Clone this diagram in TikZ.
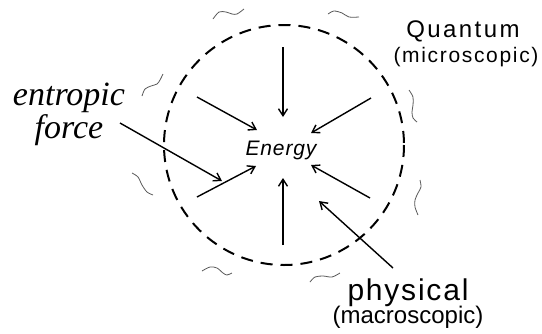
\documentclass[tikz,border=0pt]{standalone}
\usepackage{fontspec}
\setmainfont{Liberation Serif}
\setsansfont{Liberation Sans}
\newfontfamily\qsans[LetterSpace=10]{Liberation Sans}
\newfontfamily\midsans[LetterSpace=8]{Liberation Sans}
\newfontfamily\psans[LetterSpace=6]{Liberation Sans}
\newfontfamily\esans[LetterSpace=4]{Liberation Sans}
\usetikzlibrary{arrows.meta}
\tikzset{
  inarrow/.style={line width=1.4pt,-{Straight Barb[length=7pt,width=9pt,line width=1.4pt]}},
  boundary/.style={line width=2pt,dash pattern=on 12pt off 8pt},
  squig/.style={gray!70!black,line width=0.8pt},
  lbl/.style={inner sep=0pt,anchor=base}
}
\begin{document}
\begin{tikzpicture}[x=1pt,y=-1pt]
\useasboundingbox (0,0) rectangle (542,333);
% boundary
\node[draw=none,inner sep=0pt] (ctr) at (284,145) {};
\draw[boundary] (ctr) circle[radius=120];
% labels
\node[lbl] (energy) at (281,155) {\esans\itshape\fontsize{21}{21}\selectfont Energy};
\node[lbl] (entropic) at (69,105) {\itshape\fontsize{34}{34}\selectfont entropic};
\node[lbl] (force) at (69,138) {\itshape\fontsize{34}{34}\selectfont force};
\node[lbl] (quantum) at (463,37) {\qsans\fontsize{24}{24}\selectfont Quantum};
\node[lbl] (micro) at (466,62) {\midsans\fontsize{21}{21}\selectfont (microscopic)};
\node[lbl] (physical) at (408,300) {\psans\fontsize{30}{30}\selectfont physical};
\node[lbl] (macro) at (408,323) {\sffamily\fontsize{24}{24}\selectfont (macroscopic)};
% arrow end points
\coordinate (a1s) at (283,47);  \coordinate (a1e) at (283,117);
\coordinate (a2s) at (371,98);  \coordinate (a2e) at (311,133);
\coordinate (a3s) at (197,97);  \coordinate (a3e) at (257,130);
\coordinate (a4s) at (197,197); \coordinate (a4e) at (256,166);
\coordinate (a5s) at (120,123); \coordinate (a5e) at (222,181);
\coordinate (a6s) at (283,245); \coordinate (a6e) at (283,178);
\coordinate (a7s) at (370,198); \coordinate (a7e) at (311,165);
\coordinate (a8s) at (393,268); \coordinate (a8e) at (319,201);
\draw[inarrow] (a1s) -- (a1e);
\draw[inarrow] (a2s) -- (a2e);
\draw[inarrow] (a3s) -- (a3e);
\draw[inarrow] (a4s) -- (a4e);
\draw[inarrow] (a5s) -- (a5e);
\draw[inarrow] (a6s) -- (a6e);
\draw[inarrow] (a7s) -- (a7e);
\draw[inarrow] (a8s) -- (a8e);
% squiggles
\draw[squig] plot[smooth] coordinates {(213,19) (219,12) (226,12) (232,14) (237,14) (244,9)};
\draw[squig] plot[smooth] coordinates {(328,14) (334,11) (342,13) (349,17) (359,17)};
\draw[squig] plot[smooth] coordinates {(142,96) (145,89) (151,86) (157,84) (160,80) (163,74)};
\draw[squig] plot[smooth] coordinates {(409,90) (413,97) (413,105) (412,112) (413,118) (417,122)};
\draw[squig] plot[smooth] coordinates {(132,173) (138,177) (142,185) (147,192) (153,195)};
\draw[squig] plot[smooth] coordinates {(202,271) (210,267) (217,268) (223,273) (227,275) (232,273)};
\draw[squig] plot[smooth] coordinates {(420,180) (421,187) (418,193) (415,200) (415,207) (418,215)};
\draw[squig] plot[smooth] coordinates {(310,282) (315,277) (323,276) (332,277) (340,273)};
\end{tikzpicture}
\end{document}
